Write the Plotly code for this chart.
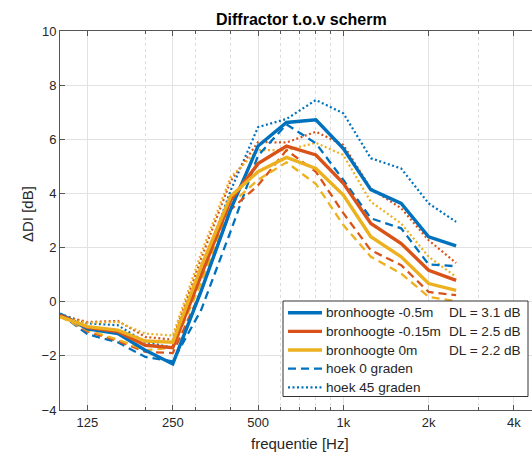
import plotly.graph_objects as go
import math

freq = [100, 125, 160, 200, 250, 315, 400, 500, 630, 800, 1000, 1250, 1600, 2000, 2500]

blue_solid   = [-0.45, -1.00, -1.18, -1.79, -2.30, 0.40, 3.40, 5.75, 6.62, 6.72, 5.66, 4.14, 3.63, 2.40, 2.06]
orange_solid = [-0.50, -0.95, -1.10, -1.61, -1.70, 1.00, 3.75, 5.10, 5.75, 5.42, 4.37, 2.89, 2.15, 1.16, 0.79]
yellow_solid = [-0.55, -0.92, -1.05, -1.45, -1.50, 1.30, 3.90, 4.80, 5.33, 4.92, 3.94, 2.40, 1.66, 0.67, 0.42]
blue_dash    = [-0.45, -1.20, -1.50, -2.04, -2.20, -0.30, 2.60, 5.40, 6.55, 5.85, 4.50, 3.08, 2.71, 1.38, 1.31]
orange_dash  = [-0.50, -1.10, -1.45, -1.85, -1.90, 0.40, 3.40, 4.30, 5.60, 4.80, 3.27, 1.90, 1.35, 0.36, 0.24]
yellow_dash  = [-0.55, -1.05, -1.40, -1.79, -1.70, 0.70, 3.60, 4.50, 5.15, 4.35, 2.83, 1.66, 1.04, 0.18, 0.02]
blue_dot     = [-0.45, -0.80, -0.87, -1.49, -1.70, 1.10, 4.10, 6.45, 6.75, 7.45, 6.96, 5.30, 4.92, 3.63, 2.95]
orange_dot   = [-0.50, -0.75, -0.71, -1.30, -1.40, 1.60, 4.45, 5.90, 5.88, 6.28, 5.79, 4.18, 3.45, 2.27, 1.43]
yellow_dot   = [-0.55, -0.78, -0.75, -1.18, -1.25, 1.80, 4.60, 5.60, 5.60, 5.87, 5.42, 3.69, 2.89, 1.66, 0.92]

legend_names = ["bronhoogte -0.5m", "bronhoogte -0.15m", "bronhoogte 0m", "hoek 0 graden", "hoek 45 graden"]
dl_labels = ["DL = 3.1 dB", "DL = 2.5 dB", "DL = 2.2 dB"]

x_ticks = [125, 250, 500, 1000, 2000, 4000]
x_ticktext = ["125", "250", "500", "1k", "2k", "4k"]
x_minor = [200, 300, 400, 600, 700, 800, 900, 1000, 2000, 3000, 4000]
y_ticks = [-4, -2, 0, 2, 4, 6, 8, 10]

BLUE, ORANGE, YELLOW = "#0072BD", "#D95319", "#EDB120"
DASH = "8px,5px"
DOT = "2px,2.5px"

fig = go.Figure()

series = [
    (blue_dot, BLUE, DOT, 2.2), (orange_dot, ORANGE, DOT, 2.2), (yellow_dot, YELLOW, DOT, 2.2),
    (blue_dash, BLUE, DASH, 2.3), (orange_dash, ORANGE, DASH, 2.3), (yellow_dash, YELLOW, DASH, 2.3),
    (blue_solid, BLUE, "solid", 3.4), (orange_solid, ORANGE, "solid", 3.4), (yellow_solid, YELLOW, "solid", 3.4),
]
for ys, col, dash, w in series:
    fig.add_trace(go.Scatter(x=freq, y=ys, mode="lines", showlegend=False,
                             line=dict(color=col, dash=dash, width=w)))

W, H = 532, 456
L, R, T, B = 60, 0, 31, 46
pw, ph = W - L - R, H - T - B

def px(xp):
    return (xp - L) / pw

def py(yp):
    return (H - B - yp) / ph

xmax_log = 2 + pw / 85.3 * math.log10(2)

font = "Liberation Sans, Arial, sans-serif"
axcol = "#555555"
tickfont = dict(family=font, size=13, color="#262626")

fig.update_layout(
    width=W, height=H,
    margin=dict(l=L, r=R, t=T, b=B),
    paper_bgcolor="white", plot_bgcolor="white",
    font=dict(family=font, size=13, color="#262626"),
    showlegend=False,
    xaxis=dict(type="log", range=[2, xmax_log],
               tickmode="array", tickvals=x_ticks, ticktext=x_ticktext,
               ticks="inside", ticklen=5, tickcolor=axcol,
               showline=True, linecolor=axcol, linewidth=1, mirror="ticks",
               showgrid=True, gridcolor="#e2e2e2", gridwidth=1,
               minor=dict(tickmode="array", tickvals=x_minor, ticks="inside", ticklen=3,
                          tickcolor=axcol, showgrid=True, gridcolor="#dcdcdc",
                          griddash="dot", gridwidth=1),
               tickfont=tickfont, zeroline=False),
    yaxis=dict(range=[-4, 10], tickmode="array", tickvals=y_ticks,
               ticks="inside", ticklen=5, tickcolor=axcol,
               showline=True, linecolor=axcol, linewidth=1, mirror=False,
               showgrid=True, gridcolor="#e2e2e2", gridwidth=1,
               tickfont=tickfont, zeroline=False),
)

# legend box (manual)
fig.add_shape(type="rect", xref="paper", yref="paper",
              x0=px(283), x1=px(528), y0=py(396.5), y1=py(301),
              fillcolor="white", line=dict(color="#333333", width=1), layer="above")

leg_styles = [(BLUE, "solid", 3.4), (ORANGE, "solid", 3.4), (YELLOW, "solid", 3.4),
              (BLUE, DASH, 2.3), (BLUE, DOT, 2.2)]
row_y = [312.7, 331.4, 350.0, 368.7, 387.3]
for name, (col, dash, w), yy in zip(legend_names, leg_styles, row_y):
    fig.add_shape(type="line", xref="paper", yref="paper",
                  x0=px(288), x1=px(322), y0=py(yy), y1=py(yy),
                  line=dict(color=col, dash=dash, width=w), layer="above")
    fig.add_annotation(text=name, xref="paper", yref="paper", x=px(324), y=py(yy),
                       xanchor="left", yanchor="middle", showarrow=False,
                       font=dict(family=font, size=13.6, color="#262626"))

for txt, yy in zip(dl_labels, row_y):
    fig.add_annotation(text=txt, xref="paper", yref="paper", x=px(523), y=py(yy),
                       xanchor="right", yanchor="middle", showarrow=False,
                       font=dict(family=font, size=13.6, color="#262626"))

# title and axis titles
fig.add_annotation(text="<b>Diffractor t.o.v scherm</b>", xref="paper", yref="paper",
                   x=px(301), y=py(20), xanchor="center", yanchor="middle", showarrow=False,
                   font=dict(family=font, size=16, color="#000000"))
fig.add_annotation(text="frequentie [Hz]", xref="paper", yref="paper",
                   x=px(300), y=py(443), xanchor="center", yanchor="middle", showarrow=False,
                   font=dict(family=font, size=15, color="#262626"))
fig.add_annotation(text="ΔDI [dB]", xref="paper", yref="paper",
                   x=px(27), y=py(214), xanchor="center", yanchor="middle", showarrow=False,
                   textangle=-90, font=dict(family=font, size=15, color="#262626"))

fig.write_html("out.html")
